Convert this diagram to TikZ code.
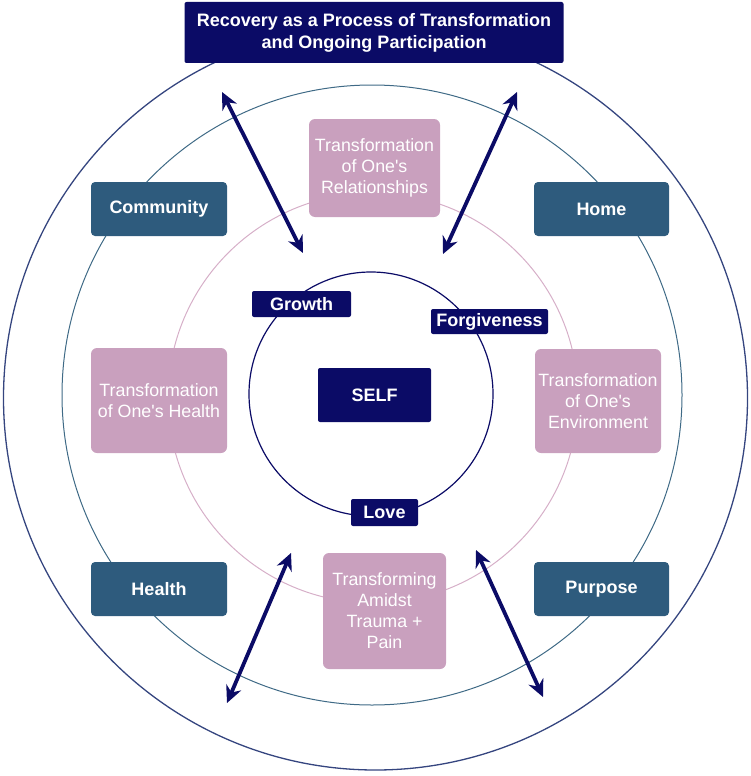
\documentclass[tikz,border=0pt]{standalone}
\usepackage{fontspec}
\newfontfamily\arialish{Liberation Sans}
\usepackage{xcolor}
\usetikzlibrary{arrows.meta,calc,positioning}
\definecolor{navyfill}{HTML}{0B0B66}
\definecolor{steelfill}{HTML}{2E5B7D}
\definecolor{mauvefill}{HTML}{C9A0BE}
\definecolor{ringblue}{HTML}{35457F}
\definecolor{ringsteel}{HTML}{3F6A86}
\definecolor{ringpink}{HTML}{D6AFC8}

\begin{document}
\begin{tikzpicture}[x=1pt,y=-1pt,
  every node/.style={font=\arialish\fontsize{17.8}{21}\selectfont,text=white,align=center,inner sep=0pt},
  navybox/.style={fill=navyfill,rounded corners=2pt,font=\arialish\bfseries\fontsize{18}{22}\selectfont},
  areabox/.style={fill=steelfill,rounded corners=4pt,minimum width=136pt,minimum height=54pt,font=\arialish\bfseries\fontsize{18}{21}\selectfont},
  changebox/.style={fill=mauvefill,rounded corners=6pt},
  twoway/.style={{Stealth[length=17pt,width=16pt]}-{Stealth[length=17pt,width=16pt]},draw=navyfill,line width=3.8pt}]
  \useasboundingbox (0,0) rectangle (750,776);
  % rings
  \draw[ringblue,line width=1.3pt] (375.5,398) circle[radius=372];
  \draw[ringsteel,line width=1pt] (372,395) circle[radius=310];
  \draw[ringpink,line width=1pt] (373,398) circle[radius=205];
  \draw[navyfill,line width=1.2pt] (371,394) circle[radius=122];
  % title and centre
  \node[navybox,minimum width=379pt,minimum height=61pt] (title) at (374,32.5) {Recovery as a Process of Transformation\\and Ongoing Participation};
  \node[navybox,minimum width=113pt,minimum height=54pt] (self) at (374.5,395) {SELF};
  \node[navybox,minimum width=99pt,minimum height=26pt] (growth) at (301.5,304) {Growth};
  \node[navybox,minimum width=117pt,minimum height=25pt] (forgive) at (489.5,321.5) {Forgiveness};
  \node[navybox,minimum width=67pt,minimum height=27pt] (love) at (384.5,512.5) {Love};
  % life areas
  \node[areabox] (community) at (159,209) {Community};
  \node[areabox,minimum width=135pt] (home) at (601.5,209) {Home};
  \node[areabox] (health) at (159,589) {Health};
  \node[areabox,minimum width=135pt] (purpose) at (601.5,589) {Purpose};
  % transformations
  \node[changebox,minimum width=131pt,minimum height=98pt] (relations) at (374.5,168) {Transformation\\of One's\\Relationships};
  \node[changebox,minimum width=136pt,minimum height=105pt] (bodyhealth) at (159,400.5) {Transformation\\of One's Health};
  \node[changebox,minimum width=126pt,minimum height=104pt] (environ) at (598,401) {Transformation\\of One's\\Environment};
  \node[changebox,minimum width=123pt,minimum height=116pt] (trauma) at (384.5,611) {Transforming\\Amidst\\Trauma +\\Pain};
  % two-way arrows
  \coordinate (nwout) at (222,92);  \coordinate (nwin) at (303,253);
  \coordinate (neout) at (517,92);  \coordinate (nein) at (443,254);
  \coordinate (swin) at (291,553);  \coordinate (swout) at (227,703);
  \coordinate (sein) at (476,550);  \coordinate (seout) at (543,697);
  \draw[twoway] (nwout) -- (nwin);
  \draw[twoway] (neout) -- (nein);
  \draw[twoway] (swin) -- (swout);
  \draw[twoway] (sein) -- (seout);
\end{tikzpicture}
\end{document}
